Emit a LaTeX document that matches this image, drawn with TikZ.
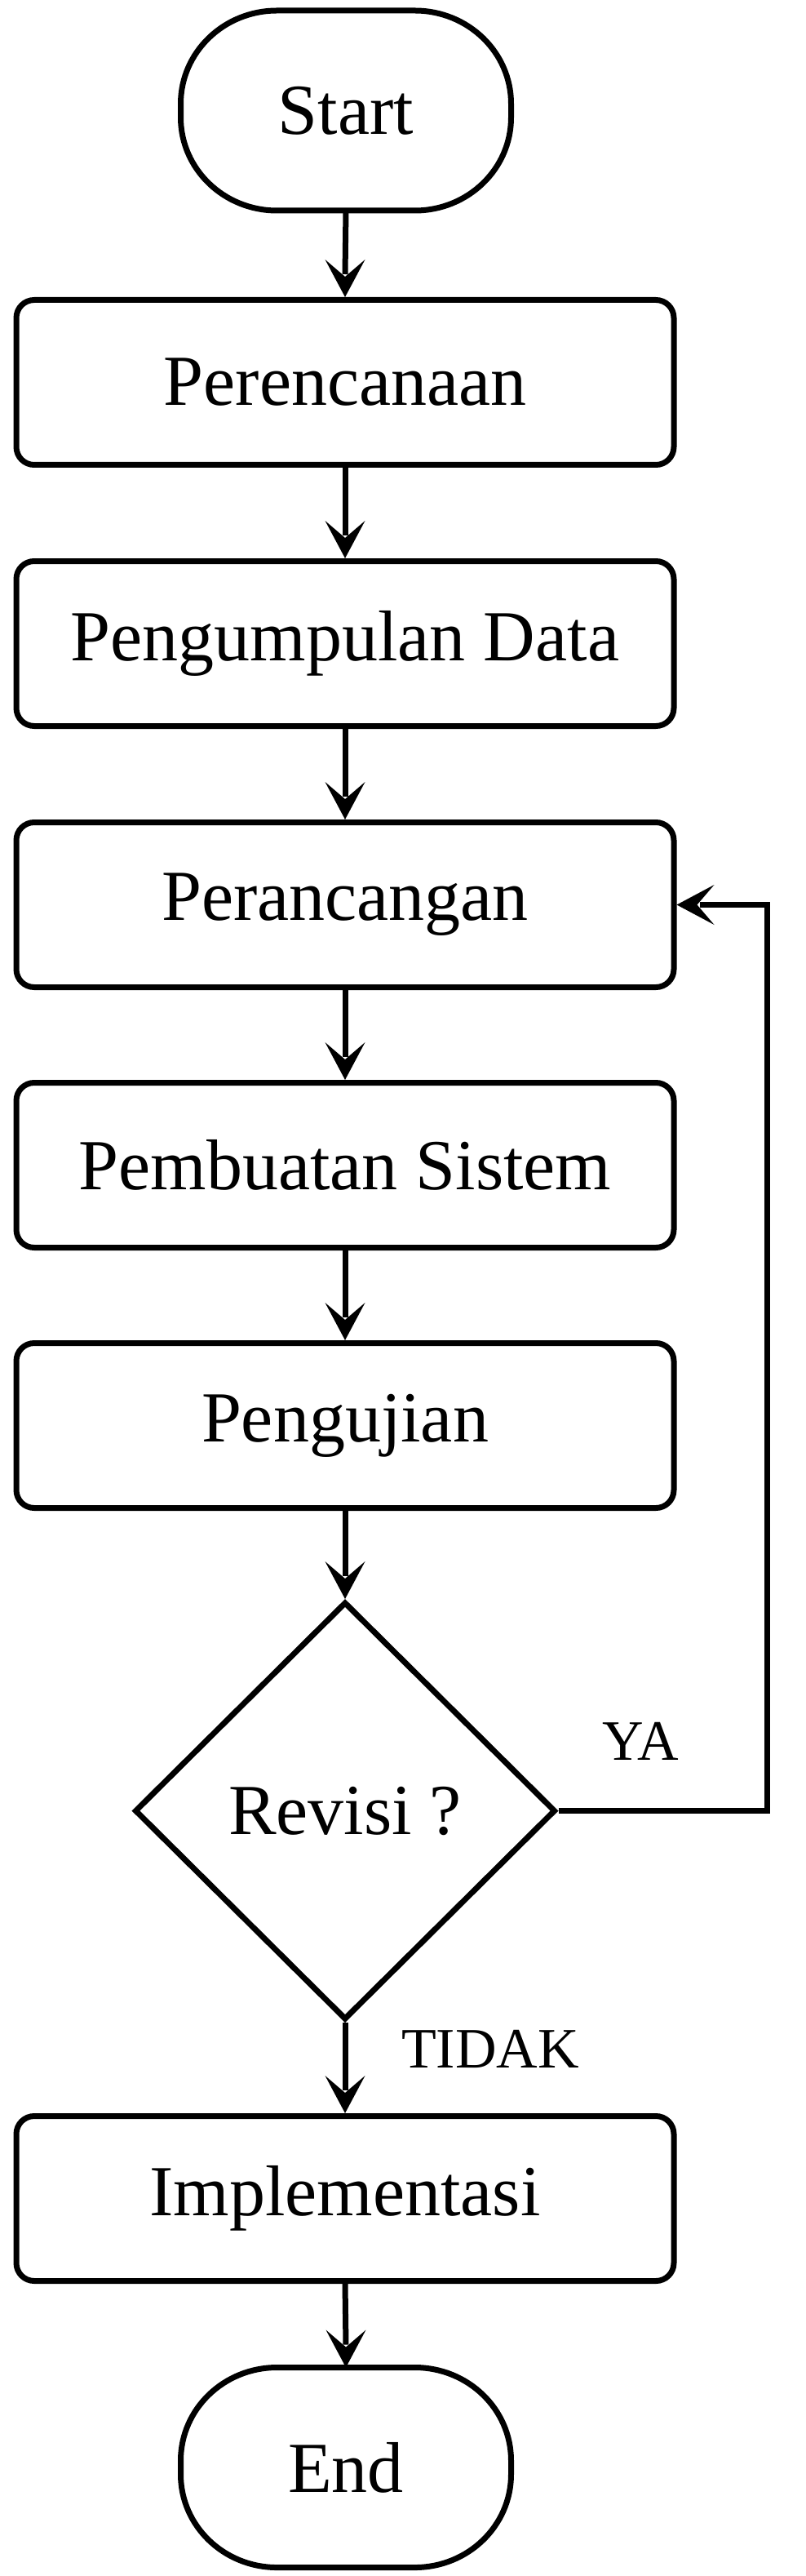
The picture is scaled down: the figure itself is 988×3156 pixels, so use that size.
\documentclass[tikz,border=0pt]{standalone}
\usepackage{fontspec}
\setmainfont{Liberation Serif}
\usetikzlibrary{shapes.geometric}
\newcommand{\termoutline}[1]{%
  \draw[line width=3.5pt,line join=round]
    ([xshift=59pt]#1.north west) -- ([xshift=-59pt]#1.north east)
    arc[start angle=90,end angle=0,x radius=59pt,y radius=57pt]
    -- ([yshift=57pt]#1.south east)
    arc[start angle=0,end angle=-90,x radius=59pt,y radius=57pt]
    -- ([xshift=59pt]#1.south west)
    arc[start angle=-90,end angle=-180,x radius=59pt,y radius=57pt]
    -- ([yshift=-57pt]#1.north west)
    arc[start angle=180,end angle=90,x radius=59pt,y radius=57pt] -- cycle;}
\newcommand{\tipdown}[1]{%
  \fill (#1.north) -- ([xshift=-12.25pt,yshift=23pt]#1.north)
    -- ([yshift=12.5pt]#1.north) -- ([xshift=12.25pt,yshift=23pt]#1.north) -- cycle;}
\newcommand{\tipleft}[1]{%
  \fill (#1.east) -- ([xshift=23pt,yshift=12.25pt]#1.east)
    -- ([xshift=12.5pt]#1.east) -- ([xshift=23pt,yshift=-12.25pt]#1.east) -- cycle;}
\begin{document}
\begin{tikzpicture}[x=0.5pt,y=-0.5pt,
  every node/.style={font=\fontsize{44}{50}\selectfont},
  procbox/.style={draw,line width=3.5pt,rounded corners=11pt,minimum width=403pt,minimum height=101pt,inner sep=0pt,outer sep=1.75pt},
  termbox/.style={minimum width=199pt,minimum height=119pt,inner sep=0pt,outer sep=1.75pt},
  decbox/.style={draw,line width=3.5pt,shape=diamond,aspect=1,minimum width=258pt,minimum height=256pt,inner sep=0pt,outer sep=1.75pt},
  lbl/.style={font=\fontsize{35}{40}\selectfont},
  conn/.style={line width=3.5pt}]
\useasboundingbox (0,0) rectangle (988,3156);
\node[termbox] (start) at (424,135.5) {Start};
\node[procbox] (p1) at (423,468.5) {Perencanaan};
\node[procbox] (p2) at (423,788.5) {Pengumpulan Data};
\node[procbox] (p3) at (423,1108.5) {Perancangan};
\node[procbox] (p4) at (423,1427.5) {Pembuatan Sistem};
\node[procbox] (p5) at (423,1746.5) {Pengujian};
\node[decbox] (d) at (423,2218.5) {Revisi ?};
\node[procbox] (p6) at (423,2693.5) {Implementasi};
\node[termbox] (end) at (424,3023) {End};
\termoutline{start}
\termoutline{end}
\coordinate (loop) at (940,2218.5);
\draw[conn] (start.south) -- ([yshift=14pt]p1.north); \tipdown{p1}
\draw[conn] (p1.south) -- ([yshift=14pt]p2.north); \tipdown{p2}
\draw[conn] (p2.south) -- ([yshift=14pt]p3.north); \tipdown{p3}
\draw[conn] (p3.south) -- ([yshift=14pt]p4.north); \tipdown{p4}
\draw[conn] (p4.south) -- ([yshift=14pt]p5.north); \tipdown{p5}
\draw[conn] (p5.south) -- ([yshift=14pt]d.north); \tipdown{d}
\draw[conn] (d.south) -- ([yshift=14pt]p6.north); \tipdown{p6}
\draw[conn] (p6.south) -- ([yshift=14pt]end.north); \tipdown{end}
\draw[conn] (d.east) -- (loop) |- ([xshift=14pt]p3.east); \tipleft{p3}
\node[lbl] (ya) at (785,2133) {YA};
\node[lbl] (tidak) at (601,2510) {TIDAK};
\end{tikzpicture}
\end{document}
